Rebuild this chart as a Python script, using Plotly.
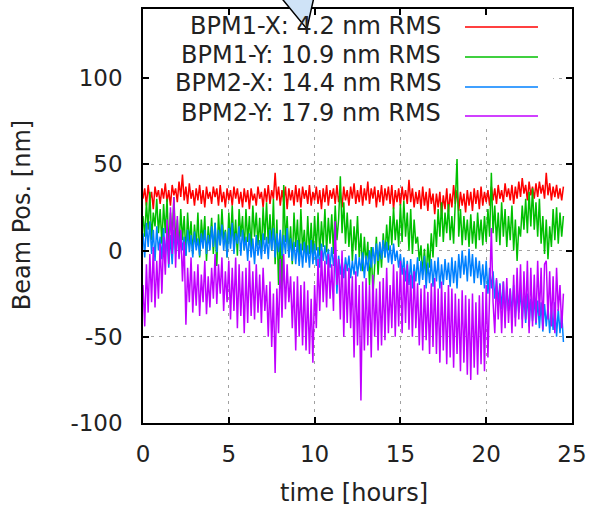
import plotly.graph_objects as go

# sampling grid (hours), one reading every 0.1 h
hours = [round(i * 0.1, 1) for i in range(246)]

bpm1_x = [30, 36, 26, 38, 29, 34, 24, 37, 31, 35,
          27, 36, 30, 39, 28, 35, 26, 38, 32, 36,
          28, 40, 31, 44, 29, 37, 27, 39, 30, 35,
          26, 36, 29, 38, 27, 35, 25, 37, 30, 34,
          27, 37, 31, 36, 26, 38, 28, 34, 25, 36,
          29, 35, 26, 37, 30, 36, 27, 34, 25, 36,
          28, 35, 24, 36, 29, 33, 26, 37, 30, 34,
          25, 36, 28, 38, 27, 35, 30, 45, 29, 37,
          26, 35, 28, 37, 24, 36, 29, 35, 26, 38,
          28, 36, 25, 37, 30, 35, 27, 38, 26, 34,
          29, 37, 27, 35, 24, 36, 28, 38, 26, 35,
          30, 36, 27, 38, 28, 34, 25, 37, 29, 35,
          26, 37, 30, 39, 27, 35, 28, 38, 26, 36,
          29, 40, 27, 36, 30, 37, 25, 35, 28, 38,
          26, 36, 29, 37, 27, 38, 24, 35, 28, 36,
          26, 37, 29, 35, 27, 41, 28, 36, 25, 34,
          27, 35, 24, 37, 26, 34, 23, 36, 27, 33,
          21, 33, 25, 34, 20, 32, 24, 36, 22, 33,
          25, 38, 27, 35, 23, 34, 26, 33, 22, 35,
          26, 34, 23, 36, 27, 35, 24, 37, 26, 34,
          28, 35, 26, 37, 29, 36, 27, 38, 30, 35,
          28, 39, 31, 36, 29, 38, 27, 37, 30, 40,
          31, 42, 33, 38, 29, 40, 32, 37, 30, 39,
          31, 40, 33, 38, 30, 45, 32, 39, 29, 37,
          31, 38, 30, 36, 29, 37]

bpm1_y = [20, 8, 28, 12, 34, 6, 22, 14, 30, 10,
          24, 4, 27, 10, 30, 2, 22, 8, 31, 5,
          18, 0, 24, 6, 20, -3, 22, 4, 17, -2,
          15, 2, 22, -4, 18, 5, 20, -6, 14, 3,
          19, -2, 16, -9, 21, 3, 24, 6, 12, -4,
          22, 4, 26, 2, 18, -3, 24, 8, 20, 0,
          24, 5, 20, 1, 26, 8, 22, 3, 19, -1,
          25, 6, 28, 4, 21, 0, 30, -8, 18, -20,
          10, -26, 38, 5, 20, -4, 14, -8, 22, 2,
          18, -6, 24, 0, 12, -5, 20, -2, 16, -4,
          20, 0, 22, -3, 17, 2, 24, -1, 19, 4,
          21, -2, 26, 6, 18, 43, 10, 28, 4, 22,
          2, 18, -6, 14, 0, 20, -4, 10, -12, 8,
          -8, 5, -20, 2, -26, -5, 8, -14, 4, -10,
          10, -4, 15, 0, 20, 3, 25, 6, 18, 2,
          27, 5, 29, 8, 22, 0, 24, -2, 18, 4,
          8, -6, 3, -14, 1, -17, 4, -10, 10, -4,
          18, 2, 24, 8, 28, 5, 22, 10, 27, 6,
          20, 4, 30, 53, 8, 24, 3, 20, 6, 18,
          2, 21, 4, 17, 1, 22, 6, 18, 3, 20,
          5, 24, 8, 45, 10, 26, 5, 22, 3, 28,
          8, 24, 2, 20, 6, 26, 0, 18, -6, 14,
          8, 26, 12, 30, 10, 34, 14, 36, 12, 28,
          8, 30, 4, 20, -2, 18, -5, 14, 2, 24,
          6, 25, 4, 22, 8, 20]

bpm2_x = [10, -4, 16, 2, 17, -2, 12, -6, 14, 0,
          8, -5, 13, -3, 10, -10, 9, -8, 12, -2,
          10, -4, 11, 0, 8, -3, 12, -1, 9, -4,
          11, 0, 7, -3, 10, 1, 12, -2, 9, 0,
          14, 2, 16, -1, 12, 3, 15, 0, 11, -4,
          13, 1, 16, -2, 10, 4, 14, -3, 12, 0,
          8, -6, 10, -4, 7, -8, 9, -3, 6, -5,
          10, -2, 8, -5, 12, 0, 13, -4, 10, -1,
          12, -3, 9, -2, 13, -4, 7, -6, 5, -8,
          6, -9, 4, -10, 5, -7, 3, -10, 6, -8,
          4, -9, 2, -10, 4, -6, 3, -8, 1, -10,
          2, -9, 0, -25, -3, -14, -5, -16, -4, -12,
          -3, -16, -6, -14, -2, -15, -4, -12, -1, -16,
          -3, -12, 0, -10, 2, -8, 4, -6, 5, -5,
          6, -4, 5, -7, 3, -8, 4, -6, 0, -10,
          -2, -14, -4, -18, -6, -20, -5, -22, -8, -18,
          -4, -20, -6, -17, -3, -22, -7, -19, -5, -21,
          -6, -18, -4, -22, -8, -20, -5, -17, -7, -21,
          -4, -19, -6, -22, -2, -16, 0, -14, -3, -18,
          1, -15, -2, -19, -4, -16, -6, -20, -8, -22,
          -6, -25, -10, -22, -12, -28, -17, -30, -19, -34,
          -18, -38, -21, -35, -22, -37, -20, -39, -24, -36,
          -23, -40, -26, -42, -25, -44, -28, -41, -27, -43,
          -29, -45, -30, -47, -31, -44, -32, -48, -33, -46,
          -30, -50, -34, -48, -36, -53]

bpm2_y = [-20, -44, -8, -36, -2, -30, 2, -33, -6, -28,
          4, -25, 8, -14, 18, -8, 25, -2, 31, -10,
          20, -5, 12, -18, 5, -43, -10, -30, -4, -36,
          -12, -32, -8, -38, -14, -30, -6, -37, -15, -33,
          -10, -28, -2, -31, -8, -25, -4, -35, -12, -30,
          -6, -40, -10, -35, -4, -45, -8, -38, -12, -48,
          -10, -42, -6, -38, -12, -40, -8, -36, -14, -42,
          -10, -35, -20, -50, -18, -56, -25, -71, -22, -48,
          -5, -39, -2, -34, -8, -30, -15, -45, -18, -58,
          -15, -50, -20, -55, -18, -58, -23, -60, -28, -65,
          -20, -45, -5, -35, 0, -30, -6, -33, -2, -28,
          -8, -35, 17, -20, -5, -40, 0, -50, -8, -42,
          -10, -45, -15, -62, -12, -55, -20, -87, -18, -58,
          -16, -55, -20, -62, -14, -50, -22, -58, -18, -55,
          -16, -52, -10, -48, -20, -45, -8, -50, -12, -44,
          -6, -48, -10, -42, -8, -46, -14, -50, -12, -45,
          -19, -55, -22, -58, -20, -52, -24, -60, -19, -56,
          -16, -60, -22, -65, -18, -58, -24, -66, -20, -62,
          -22, -68, -25, -60, -28, -70, -23, -65, -26, -72,
          -28, -75, -25, -68, -30, -72, -26, -66, -24, -70,
          -20, -62, -25, 13, -30, -48, -16, -40, -20, -48,
          -18, -45, -16, -42, -22, -48, -14, -44, -10, -40,
          -8, -45, -12, -40, -6, -48, -10, -44, -14, -42,
          -6, -38, -10, -46, -8, -6, -40, -12, -44, -15,
          -48, -10, -35, -20, -45, -25]

series_names = ["BPM1-X: 4.2 nm RMS", "BPM1-Y: 10.9 nm RMS",
                "BPM2-X: 14.4 nm RMS", "BPM2-Y: 17.9 nm RMS"]
series_values = [bpm1_x, bpm1_y, bpm2_x, bpm2_y]
colors = ["#ff0000", "#00c000", "#0080ff", "#c000ff"]

x_ticks = [0, 5, 10, 15, 20, 25]
y_ticks = [-100, -50, 0, 50, 100]
y_tick_text = ["-100", "-50", "0", "50", "100"]
x_title = "time [hours]"
y_title = "Beam Pos. [nm]"

FONT = "DejaVu Sans"
TXT = "#222222"

fig = go.Figure()
for name, vals, c in zip(series_names, series_values, colors):
    fig.add_trace(go.Scatter(x=hours[:len(vals)], y=vals, mode="lines", name=name,
                             line=dict(color=c, width=1.5), showlegend=False))

shapes = []
# opaque key box hiding the grid
shapes.append(dict(type="rect", xref="x", yref="y", x0=0.05, x1=23.9, y0=70.5, y1=136.5,
                   fillcolor="white", line=dict(width=0), layer="between"))
# key line samples and text
row_text_y = [0.959, 0.889, 0.821, 0.749]
row_line_y = [0.9565, 0.884, 0.8116, 0.7415]
annotations = []
for name, c, ty, ly in zip(series_names, colors, row_text_y, row_line_y):
    annotations.append(dict(xref="paper", yref="paper", x=0.6993, y=ty, text=name,
                            showarrow=False, xanchor="right", yanchor="middle",
                            font=dict(family=FONT, size=24, color=TXT)))
    shapes.append(dict(type="line", xref="paper", yref="paper", x0=0.7506, x1=0.9207,
                       y0=ly, y1=ly, line=dict(color=c, width=1.5), layer="above"))

# axis titles
annotations.append(dict(xref="paper", yref="paper", x=0.492, y=-0.169, text=x_title,
                        showarrow=False, xanchor="center", yanchor="middle",
                        font=dict(family=FONT, size=24, color=TXT)))
annotations.append(dict(xref="paper", yref="paper", x=-0.282, y=0.502, text=y_title,
                        showarrow=False, xanchor="center", yanchor="middle", textangle=-90,
                        font=dict(family=FONT, size=24, color=TXT)))

# speech-bubble pointer at top
shapes.append(dict(type="path", xref="paper", yref="paper",
                   path="M 0.312 1.04 L 0.382 0.952 L 0.401 1.04 Z",
                   fillcolor="#cfe3f7", line=dict(color="black", width=1.5), layer="above"))

axis_common = dict(showline=True, linecolor="black", linewidth=1.5, mirror="ticks",
                   ticks="inside", ticklen=6, tickwidth=1.5, tickcolor="black",
                   showgrid=True, gridcolor="#a0a0a0", gridwidth=1, griddash="3px,5px",
                   zeroline=False, automargin=False,
                   tickfont=dict(family=FONT, size=23, color=TXT))

fig.update_layout(
    width=591, height=506,
    margin=dict(l=143, r=19, t=9, b=83),
    plot_bgcolor="white", paper_bgcolor="white",
    shapes=shapes, annotations=annotations,
    xaxis=dict(range=[0, 25], tickvals=x_ticks, ticklabelstandoff=10, **axis_common),
    yaxis=dict(range=[-100, 140], tickvals=y_ticks, ticktext=y_tick_text,
               ticklabelstandoff=14, **axis_common),
)

fig.write_html("out.html")
